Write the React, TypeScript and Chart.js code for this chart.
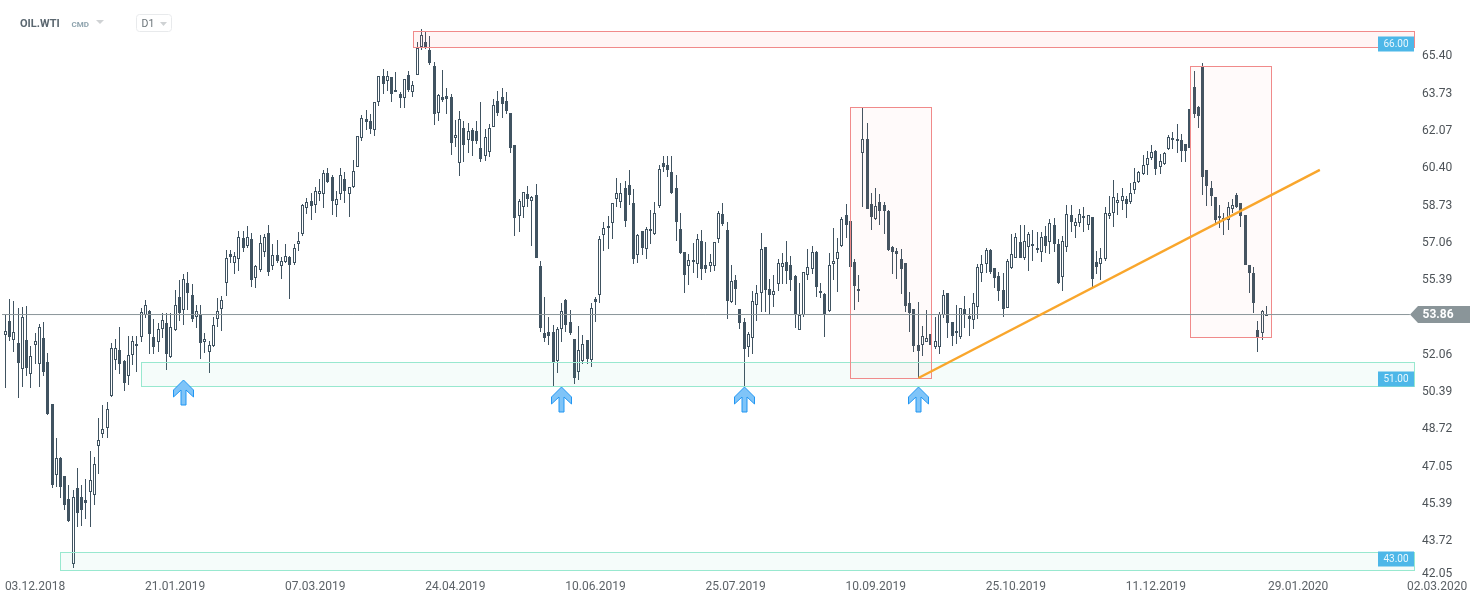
import React, { useEffect, useRef } from "react";
import { Chart, registerables } from "chart.js";

Chart.register(...registerables);

const opens = [
52.95,53.57,52.72,52.59,51.42,52.72,51.2,52.5,51.65,52.81,
51.74,49.86,46.68,47.44,46.64,45.61,42.7,46.1,45.7,45.57,
45.92,45.79,47.98,48.52,48.79,50.22,51.83,52.27,51.78,51.11,
52.05,52.45,52.86,53.84,54.02,52.86,52.63,53.21,53.48,51.96,
53.17,54.65,54.06,55.27,54.73,53.75,53.84,52.63,52.18,52.45,
53.66,54.11,55.27,56.57,56.17,56.34,57.28,56.93,57.24,55.5,
55.85,56.66,57.51,56.03,56.52,56.03,56.21,56.43,56.17,57.02,
57.46,58.63,58.94,58.76,59.25,59.25,60.19,60.01,58.76,59.25,
59.92,59.25,59.57,60.46,61.76,62.61,62.52,62.11,63.37,64.53,
64.31,64.49,63.81,63.72,63.55,64.58,63.81,64.58,65.83,66.05,
65.69,64.98,62.88,63.59,63.64,63.59,61.76,60.64,62.2,61.67,
62.11,62.07,61.31,60.95,61.13,62.25,63.41,63.59,63.41,62.88,
61.44,58.27,58.67,59.25,58.94,59.21,56.03,53.03,53.08,53.08,
51.78,53.21,54.51,53.53,52.77,51.29,51.78,52.72,51.83,54.56,
54.73,57.42,57.73,57.96,59.03,58.89,59.52,59.65,58.85,56.52,
57.6,56.79,57.69,57.46,58.72,60.64,60.55,60.24,59.52,57.69,
56.66,56.03,56.3,56.12,57.15,56.08,56.03,56.03,57.24,58.36,
57.64,54.42,55.41,54.11,53.53,52.41,52.81,54.29,54.82,56.88,
55.0,54.73,55.23,55.99,56.21,56.08,55.58,53.17,53.84,55.63,
55.9,56.66,54.91,54.78,54.02,56.12,56.34,56.93,58.31,58.04,
56.21,55.0,61.09,61.71,58.8,58.13,58.89,58.76,58.49,56.88,
56.7,56.34,56.17,54.38,54.11,52.5,52.5,52.63,52.99,52.41,
52.41,53.84,54.82,53.53,53.03,52.86,54.11,53.8,53.62,54.2,
55.72,56.12,56.75,55.94,55.58,54.96,54.15,55.94,56.39,57.11,
56.39,56.88,57.02,56.75,56.66,57.37,57.11,57.87,57.02,55.54,
56.88,58.31,57.82,57.96,58.27,57.87,58.22,56.21,56.12,56.34,
58.27,58.4,58.85,58.94,59.03,58.89,59.43,59.79,60.15,60.55,
60.86,61.18,60.46,60.6,61.26,61.76,61.71,61.67,61.49,63.05,
64.04,63.14,64.93,60.33,59.52,59.12,58.27,58.09,58.09,58.58,
59.21,58.85,58.31,56.08,55.72,53.17,53.03,53.8,
];

const closes = [
53.12,52.86,53.08,51.69,53.75,51.47,52.0,52.68,53.3,51.29,
49.41,46.24,47.44,46.15,45.34,44.63,45.7,44.98,45.12,45.43,
46.46,47.17,48.25,48.74,49.64,52.36,52.36,51.65,50.8,52.05,
52.68,52.54,53.97,54.29,52.99,52.41,53.21,53.62,52.1,53.3,
54.29,53.93,55.45,54.82,53.66,54.02,52.59,52.77,52.5,53.39,
54.02,54.51,56.39,56.43,56.48,57.33,56.84,57.33,55.41,56.03,
57.06,57.33,55.76,56.52,56.25,56.25,56.48,56.08,56.84,57.15,
58.76,58.89,58.72,59.39,59.39,60.19,59.79,58.94,59.03,60.1,
59.39,59.57,60.28,61.85,62.65,62.47,62.16,63.37,64.53,64.17,
64.53,63.72,63.9,63.55,64.4,63.9,64.13,65.78,66.36,65.78,
65.11,62.83,63.68,63.46,63.5,61.53,61.89,62.61,61.44,62.07,
61.62,61.62,60.82,61.8,62.2,63.23,62.88,63.28,62.97,61.31,
58.18,58.94,59.34,59.03,59.12,56.39,53.26,52.81,52.9,51.69,
53.21,54.02,53.39,53.03,51.02,52.27,52.54,51.87,54.15,54.42,
57.24,57.73,57.82,58.85,59.3,59.3,58.04,59.21,56.34,57.42,
56.84,57.69,57.6,58.4,60.37,60.46,60.33,59.3,58.0,56.61,
55.63,56.3,56.21,57.24,55.9,55.9,56.21,57.11,58.4,57.91,
54.47,55.36,55.0,53.48,52.32,52.99,54.47,54.82,56.79,54.96,
54.73,54.91,56.17,56.17,55.81,55.41,53.88,53.84,55.76,55.99,
56.66,55.09,54.82,53.88,56.08,56.25,56.66,58.13,57.87,55.99,
55.14,54.91,61.71,58.58,58.22,58.72,58.49,58.49,56.75,56.66,
56.57,55.9,54.24,53.93,52.45,52.23,52.9,52.81,52.5,52.68,
53.88,54.73,53.48,52.9,53.12,54.15,53.84,53.66,54.38,55.99,
56.12,56.75,55.76,55.5,54.91,54.11,56.25,56.57,57.33,56.39,
57.15,57.46,56.93,56.84,57.33,56.93,57.96,57.02,55.27,57.15,
58.36,58.0,58.0,58.36,58.18,58.31,55.45,55.99,56.39,58.4,
58.4,59.12,58.98,59.16,58.8,59.3,59.79,60.24,60.55,60.86,
61.13,60.37,60.73,61.09,61.8,61.67,61.62,61.18,61.18,61.31,
62.83,62.74,60.01,59.61,59.16,58.09,58.18,58.18,58.67,58.76,
58.67,58.27,56.08,55.72,54.38,52.81,54.02,53.88,
];

const highs = [
53.84,54.56,54.47,54.15,54.2,54.24,52.45,53.03,53.44,53.53,
52.14,49.86,48.34,47.49,46.64,46.24,46.01,47.0,46.24,46.5,
47.76,47.49,49.23,49.81,49.95,52.59,52.77,53.3,51.83,52.9,
52.9,52.9,54.15,54.51,54.06,53.66,53.48,53.93,53.93,53.93,
54.96,55.41,55.67,55.76,55.23,54.29,54.29,53.03,52.68,53.75,
54.6,54.69,56.75,56.75,56.66,57.6,57.6,57.82,57.51,56.08,
57.42,57.46,57.87,57.02,57.19,56.43,57.02,56.48,57.02,57.55,
58.8,59.07,59.3,59.57,59.92,60.33,60.42,60.1,59.39,60.42,
60.24,59.57,60.77,61.85,62.79,63.01,62.83,63.37,64.53,64.84,
64.75,64.49,64.71,63.81,64.4,64.75,64.31,66.05,66.63,66.5,
66.32,65.16,63.72,64.8,63.99,63.72,62.56,62.97,62.52,62.43,
62.2,62.52,63.37,62.16,62.38,63.5,63.86,63.99,63.81,62.88,
61.44,59.03,59.34,59.61,59.16,59.7,56.25,54.65,53.75,53.39,
53.3,54.38,54.56,54.06,52.77,53.35,52.95,52.72,54.38,54.65,
57.37,58.0,58.27,58.85,59.97,59.74,59.83,60.33,59.48,57.46,
57.6,57.78,58.54,58.89,60.55,60.95,60.95,60.95,60.1,58.4,
56.66,56.57,57.06,57.46,57.64,57.11,56.57,57.11,58.49,58.85,
58.0,56.08,55.63,54.11,53.71,53.08,54.91,55.18,57.51,56.88,
55.45,55.63,56.34,56.61,57.15,56.48,55.63,55.27,55.76,56.79,
56.93,56.7,55.27,54.82,56.61,57.73,57.28,58.22,58.8,58.04,
56.34,55.63,63.14,62.43,59.3,59.52,59.25,58.89,58.54,56.93,
56.84,56.79,56.17,54.87,54.11,54.42,53.35,54.06,52.99,53.75,
53.97,54.96,54.82,53.53,54.29,54.15,54.69,54.15,54.82,56.12,
56.52,56.84,56.79,55.94,55.76,55.72,56.34,57.46,57.51,57.87,
57.87,57.55,57.64,57.55,57.55,57.82,58.13,58.18,57.24,57.37,
58.76,58.76,58.18,58.58,58.67,58.31,58.22,56.7,56.84,58.67,
59.16,59.88,59.3,59.52,59.16,59.74,60.42,60.28,61.0,61.18,
61.44,61.22,61.04,61.13,61.89,62.02,62.38,61.94,61.49,63.05,
64.75,63.19,65.11,60.33,59.83,59.12,58.76,58.4,58.89,59.03,
59.3,58.85,58.31,56.08,55.99,53.57,54.06,54.24,
];

const lows = [
50.57,52.68,52.18,50.13,50.62,51.11,50.57,51.65,50.62,51.11,
49.37,46.1,46.15,45.66,45.12,44.58,42.52,44.36,44.4,44.71,
44.36,45.34,46.73,48.34,48.34,50.17,51.38,51.2,50.44,50.71,
51.6,51.29,52.63,53.71,52.1,52.1,52.18,52.81,51.38,51.92,
53.12,53.57,53.39,54.06,53.53,53.26,51.87,52.14,51.25,52.41,
53.3,53.12,54.69,56.17,55.67,55.81,56.66,56.84,55.09,55.05,
55.76,56.43,55.58,55.85,56.17,55.45,56.17,54.56,56.08,56.7,
57.37,58.36,58.09,58.4,58.94,58.63,59.74,58.31,58.22,58.98,
58.85,58.22,59.52,60.46,61.62,62.11,61.94,61.85,63.19,63.72,
63.86,63.37,63.81,63.1,63.1,63.81,63.59,64.58,65.69,65.74,
65.02,62.34,62.52,63.37,62.83,61.0,61.35,60.06,60.68,61.09,
60.95,61.49,60.68,60.73,60.91,62.25,62.74,62.65,62.83,61.09,
57.37,57.55,58.18,58.67,56.93,56.39,53.08,52.63,52.5,50.66,
51.25,52.63,53.08,52.95,50.75,50.93,51.65,51.65,51.51,53.53,
54.38,56.7,56.79,57.24,58.67,58.63,57.77,58.76,56.12,56.17,
56.52,56.34,57.02,57.42,58.63,60.24,60.01,59.25,57.15,56.57,
54.82,55.18,55.72,55.5,55.41,55.72,55.76,55.81,57.06,57.82,
53.66,54.38,54.29,53.21,50.66,51.96,52.1,53.57,53.97,53.97,
53.84,54.2,54.91,55.23,55.23,54.91,53.26,53.17,53.75,55.41,
55.67,54.65,54.6,52.86,53.97,55.41,54.87,56.88,57.28,55.99,
54.06,54.42,58.67,58.58,57.64,58.09,57.87,57.46,56.7,55.67,
55.45,54.78,53.97,53.08,52.18,50.98,52.0,52.63,52.5,52.32,
52.1,53.71,52.81,52.45,52.54,52.77,53.26,52.9,53.21,53.66,
55.32,55.72,55.67,55.05,54.47,53.75,54.15,55.9,56.39,56.39,
56.3,55.81,56.25,56.61,56.21,56.61,56.57,56.66,55.23,54.91,
56.66,57.55,57.28,57.78,57.55,57.64,55.09,55.67,55.41,56.25,
58.13,57.78,58.31,58.54,58.18,58.8,59.25,59.74,60.1,60.1,
60.77,60.1,60.15,60.55,61.22,61.26,61.09,60.68,60.68,61.31,
62.65,62.2,59.21,58.72,58.72,57.96,57.73,57.42,57.64,58.4,
58.63,57.78,56.08,54.82,53.93,52.18,52.72,53.8,
];

const candleIndex = opens.map((_, i) => i);

const priceTicks = [65.42, 63.73, 62.07, 60.4, 58.73, 57.06, 55.39, 52.06, 50.39, 48.72, 47.05, 45.39, 43.72, 42.26];
const priceTickLabels = ["65.40", "63.73", "62.07", "60.40", "58.73", "57.06", "55.39", "52.06", "50.39", "48.72", "47.05", "45.39", "43.72", "42.05"];
const dateTicks = [7, 40, 73, 106, 139, 172, 205, 238, 271, 304.5, 337.2];
const dateLabels = ["03.12.2018", "21.01.2019", "07.03.2019", "24.04.2019", "10.06.2019", "25.07.2019", "10.09.2019", "25.10.2019", "11.12.2019", "29.01.2020", "02.03.2020"];

const lastPrice = 53.86;
const lastPriceLabel = "53.86";
const xMin = -1.248;
const xMax = 331.77;
const yMin = 42.0761;
const yMax = 67.0354;

// [from candle, to candle, upper price, lower price]
const topZone = [96.1, xMax, 66.52, 65.8];
const redBoxes = [
  [199.06, 218.13, 63.12, 51.0],
  [279.13, 298.2, 64.96, 52.83],
];
const greenZones = [
  [32.1, xMax, 51.72, 50.64],
  [12.95, xMax, 43.21, 42.41],
];
const zoneLabels = ["66.00", "51.00", "43.00"];
const zoneLabelPrices = [66.0, 51.0, 43.0];
const arrowCandles = [41.9, 130.9, 174.0, 215.0];
const arrowPrices = [50.93, 50.64, 50.64, 50.64];
const trendX = [215.07, 309.6];
const trendY = [51.02, 60.33];

const INK = "#405361";

export default function App() {
  const ref = useRef<HTMLCanvasElement>(null);

  useEffect(() => {
    document.body.style.margin = "0";
    Chart.defaults.font.family = "Roboto";
    const canvas = ref.current!;

    const snapPlugin = {
      id: "snap",
      afterDatasetsUpdate(chart: any) {
        chart.data.datasets.forEach((ds: any, i: number) => {
          if (ds.type === "line") return;
          chart.getDatasetMeta(i).data.forEach((el: any) => {
            el.x = Math.floor(el.x) + 0.5;
            el.y = Math.round(el.y);
            el.base = Math.round(el.base);
          });
        });
      },
    };

    const drawZones = (chart: any) => {
      const { ctx, scales } = chart;
      const x = scales.x;
      const y = scales.y;
      const box = (z: number[], fill: string, stroke: string) => {
        const l = Math.floor(x.getPixelForValue(z[0])) + 0.5;
        const r = Math.floor(x.getPixelForValue(z[1])) + 0.5;
        const t = Math.floor(y.getPixelForValue(z[2])) + 0.5;
        const b = Math.floor(y.getPixelForValue(z[3])) + 0.5;
        ctx.fillStyle = fill;
        ctx.fillRect(l, t, r - l, b - t);
        ctx.strokeStyle = stroke;
        ctx.lineWidth = 1;
        ctx.strokeRect(l, t, r - l, b - t);
      };
      ctx.save();
      greenZones.forEach((z) => box(z, "rgba(70,205,165,0.055)", "#98e8cf"));
      box(topZone, "rgba(250,110,110,0.07)", "#f08a8a");
      redBoxes.forEach((z) => box(z, "rgba(250,120,120,0.035)", "#f08a8a"));
      ctx.restore();
    };

    const overlayPlugin = {
      id: "overlay",
      beforeDatasetDraw(chart: any, args: any) {
        if (args.index === 2) drawZones(chart);
      },
      afterDraw(chart: any) {
        const { ctx, scales } = chart;
        const x = scales.x;
        const y = scales.y;
        ctx.save();

        // zone labels
        ctx.textAlign = "center";
        ctx.textBaseline = "middle";
        ctx.font = "10px Roboto";
        zoneLabels.forEach((t, i) => {
          const cy = Math.round(y.getPixelForValue(zoneLabelPrices[i])) + (i === 2 ? 2 : 1);
          ctx.fillStyle = "#4db7e8";
          ctx.fillRect(1378, cy - 7.5, 36, 15);
          ctx.fillStyle = "#eaf7fd";
          ctx.fillText(t, 1396, cy + 0.5);
        });

        // last price tag
        const py = y.getPixelForValue(lastPrice);
        ctx.fillStyle = "#8a9599";
        ctx.beginPath();
        ctx.moveTo(1410, py);
        ctx.lineTo(1418, py - 8.5);
        ctx.lineTo(1470, py - 8.5);
        ctx.lineTo(1470, py + 8.5);
        ctx.lineTo(1418, py + 8.5);
        ctx.closePath();
        ctx.fill();
        ctx.fillStyle = "#ffffff";
        ctx.font = "bold 12px Roboto";
        ctx.textAlign = "left";
        ctx.fillText(lastPriceLabel, 1422.5, py + 0.5);

        // arrows
        arrowCandles.forEach((c, i) => {
          const ax = Math.round(x.getPixelForValue(c)) + 0.5;
          const ay = Math.round(y.getPixelForValue(arrowPrices[i]));
          ctx.beginPath();
          ctx.moveTo(ax, ay);
          ctx.lineTo(ax + 10, ay + 10);
          ctx.lineTo(ax + 10, ay + 17);
          ctx.lineTo(ax + 2.5, ay + 10);
          ctx.lineTo(ax + 2.5, ay + 25);
          ctx.lineTo(ax - 2.5, ay + 25);
          ctx.lineTo(ax - 2.5, ay + 10);
          ctx.lineTo(ax - 10, ay + 17);
          ctx.lineTo(ax - 10, ay + 10);
          ctx.closePath();
          ctx.fillStyle = "#7fc4f8";
          ctx.fill();
          ctx.strokeStyle = "#2196f3";
          ctx.lineWidth = 1;
          ctx.stroke();
        });

        // header
        ctx.textBaseline = "alphabetic";
        ctx.textAlign = "left";
        ctx.fillStyle = "#5b6770";
        ctx.font = "bold 11px Roboto";
        ctx.fillText("OIL.WTI", 20, 27);
        ctx.fillStyle = "#8fa4ae";
        ctx.font = "bold 8px Roboto";
        ctx.fillText("CMD", 71.5, 27);
        const tri = (l: number, t: number, w: number, h: number) => {
          ctx.fillStyle = "#cfd2d4";
          ctx.beginPath();
          ctx.moveTo(l, t);
          ctx.lineTo(l + w, t);
          ctx.lineTo(l + w / 2, t + h);
          ctx.closePath();
          ctx.fill();
        };
        tri(96, 20, 8, 4);
        ctx.strokeStyle = "#e8eaec";
        ctx.lineWidth = 1;
        ctx.beginPath();
        ctx.roundRect(136.5, 14.5, 35, 17, 3);
        ctx.stroke();
        ctx.fillStyle = "#6a7378";
        ctx.font = "10.5px Roboto";
        ctx.fillText("D1", 141.5, 27);
        tri(160, 22, 7, 4);
        ctx.restore();
      },
    };

    const chart = new Chart(canvas, {
      type: "bar",
      data: {
        datasets: [
          {
            type: "bar",
            label: "Wicks",
            data: candleIndex.map((i) => ({ x: i, y: [lows[i], highs[i]] })),
            backgroundColor: INK,
            borderWidth: 0,
            barThickness: 1,
            grouped: false,
            inflateAmount: 0,
            order: 4,
          },
          {
            type: "bar",
            label: "OIL.WTI",
            data: candleIndex.map((i) => ({ x: i, y: [opens[i], closes[i]] })),
            backgroundColor: candleIndex.map((i) => (closes[i] >= opens[i] ? "#ffffff" : INK)),
            borderColor: INK,
            borderWidth: 1,
            borderSkipped: false,
            barThickness: 3,
            grouped: false,
            inflateAmount: 0,
            order: 3,
          },
          {
            type: "line",
            label: "Last price",
            data: [
              { x: -0.77, y: lastPrice },
              { x: 330.8, y: lastPrice },
            ],
            borderColor: "#8a9599",
            borderWidth: 1,
            pointRadius: 0,
            order: 2,
          },
          {
            type: "line",
            label: "Trend",
            data: trendX.map((v, i) => ({ x: v, y: trendY[i] })),
            borderColor: "#f9a62c",
            borderWidth: 2.4,
            pointRadius: 0,
            order: 1,
          },
        ],
      } as any,
      options: {
        responsive: false,
        animation: false,
        events: [],
        layout: { autoPadding: false, padding: { top: 20, left: 0, right: 0, bottom: 0 } },
        plugins: { legend: { display: false }, tooltip: { enabled: false }, title: { display: false } },
        scales: {
          x: {
            type: "linear",
            offset: false,
            min: xMin,
            max: xMax,
            border: { display: false },
            grid: { display: false, drawTicks: false, offset: false },
            afterBuildTicks: (s: any) => {
              s.ticks = dateTicks.map((v) => ({ value: v }));
            },
            afterFit: (s: any) => {
              s.height = 26;
              s.paddingLeft = 0;
              s.paddingRight = 0;
            },
            ticks: {
              autoSkip: false,
              maxRotation: 0,
              minRotation: 0,
              padding: 2,
              color: "#5d6368",
              font: { size: 12, family: "Roboto" },
              callback: (_v: any, i: number) => dateLabels[i],
            },
          },
          y: {
            type: "linear",
            position: "right",
            min: yMin,
            max: yMax,
            border: { display: false },
            grid: { display: false, drawTicks: false },
            afterBuildTicks: (s: any) => {
              s.ticks = priceTicks.map((v) => ({ value: v }));
            },
            afterFit: (s: any) => {
              s.width = 68;
              s.paddingTop = 0;
              s.paddingBottom = 0;
            },
            ticks: {
              autoSkip: false,
              padding: 8,
              color: "#4d5358",
              font: { size: 12, family: "Roboto" },
              callback: (_v: any, i: number) => priceTickLabels[i],
            },
          },
        },
      } as any,
      plugins: [snapPlugin, overlayPlugin] as any,
    });
    return () => chart.destroy();
  }, []);

  return (
    <canvas
      ref={ref}
      width={1482}
      height={604}
      style={{ display: "block", position: "fixed", left: 0, top: 0, width: 1482, height: 604 }}
    />
  );
}
